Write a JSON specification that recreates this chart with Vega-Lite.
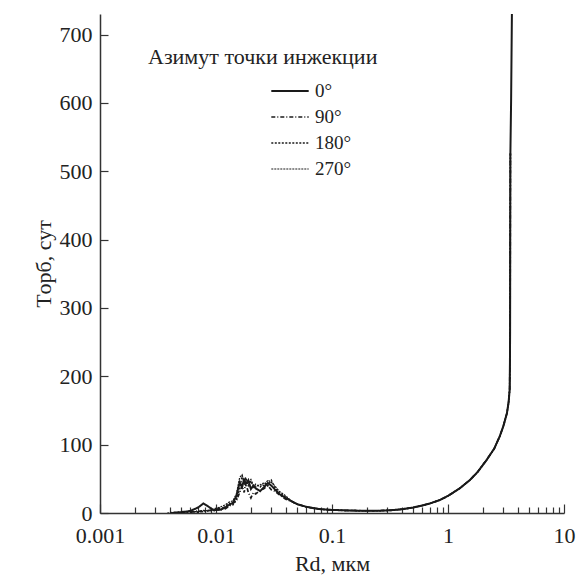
{
  "$schema": "https://vega.github.io/schema/vega-lite/v6.json",
  "autosize": {"type": "none"},
  "width": 464,
  "height": 499,
  "padding": {"left": 100, "top": 14, "right": 14, "bottom": 64},
  "background": "white",
  "config": {
    "view": {"stroke": null},
    "font": "Liberation Serif, Times New Roman, serif",
    "axis": {"labelFont": "Liberation Serif, Times New Roman, serif", "titleFont": "Liberation Serif, Times New Roman, serif", "labelColor": "#222", "titleColor": "#222", "domainColor": "#333", "tickColor": "#333", "domainWidth": 1.5, "tickWidth": 1.2, "grid": false, "labelFontSize": 22, "titleFontSize": 22, "titleFontWeight": "normal"},
    "legend": {"labelFont": "Liberation Serif, Times New Roman, serif", "titleFont": "Liberation Serif, Times New Roman, serif"}
  },
  "data": {"values": [
    {"R": 0.0038, "a0": null, "a90": null, "a180": null, "a270": 0},
    {"R": 0.0042, "a0": 0, "a90": 0, "a180": 0, "a270": 1},
    {"R": 0.005, "a0": 1, "a90": 2, "a180": 1, "a270": 1},
    {"R": 0.006, "a0": 3, "a90": 1, "a180": 2, "a270": 2},
    {"R": 0.007, "a0": 8, "a90": 3, "a180": 1, "a270": 2},
    {"R": 0.0078, "a0": 14, "a90": 2, "a180": 3, "a270": 4},
    {"R": 0.0085, "a0": 10, "a90": 4, "a180": 3, "a270": 3},
    {"R": 0.0095, "a0": 4, "a90": 3, "a180": 5, "a270": 6},
    {"R": 0.011, "a0": 5, "a90": 8, "a180": 4, "a270": 9},
    {"R": 0.012, "a0": 8, "a90": 6, "a180": 10, "a270": 12},
    {"R": 0.013, "a0": 12, "a90": 10, "a180": 14, "a270": 16},
    {"R": 0.014, "a0": 15, "a90": 14, "a180": 12, "a270": 18},
    {"R": 0.015, "a0": 25, "a90": 18, "a180": 20, "a270": 28},
    {"R": 0.016, "a0": 45, "a90": 30, "a180": 35, "a270": 52},
    {"R": 0.0168, "a0": 38, "a90": 40, "a180": 55, "a270": 56},
    {"R": 0.0175, "a0": 50, "a90": 30, "a180": 45, "a270": 42},
    {"R": 0.018, "a0": 42, "a90": 45, "a180": 52, "a270": 50},
    {"R": 0.019, "a0": 48, "a90": 30, "a180": 40, "a270": 44},
    {"R": 0.02, "a0": 35, "a90": 22, "a180": 47, "a270": 49},
    {"R": 0.021, "a0": 40, "a90": 30, "a180": 38, "a270": 40},
    {"R": 0.022, "a0": 36, "a90": 28, "a180": 42, "a270": 38},
    {"R": 0.024, "a0": 32, "a90": 33, "a180": 38, "a270": 42},
    {"R": 0.026, "a0": 38, "a90": 36, "a180": 45, "a270": 40},
    {"R": 0.028, "a0": 44, "a90": 40, "a180": 40, "a270": 48},
    {"R": 0.03, "a0": 40, "a90": 34, "a180": 48, "a270": 45},
    {"R": 0.032, "a0": 35, "a90": 32, "a180": 38, "a270": 40},
    {"R": 0.035, "a0": 28, "a90": 27, "a180": 30, "a270": 32},
    {"R": 0.04, "a0": 22, "a90": 20, "a180": 23, "a270": 25},
    {"R": 0.045, "a0": 17, "a90": 17, "a180": 17, "a270": 17},
    {"R": 0.05, "a0": 13, "a90": 13, "a180": 13, "a270": 13},
    {"R": 0.06, "a0": 9, "a90": 9, "a180": 9, "a270": 9},
    {"R": 0.07, "a0": 7, "a90": 7, "a180": 7, "a270": 7},
    {"R": 0.08, "a0": 5.5, "a90": 5.5, "a180": 5.5, "a270": 5.5},
    {"R": 0.1, "a0": 4.5, "a90": 4.5, "a180": 4.5, "a270": 4.5},
    {"R": 0.13, "a0": 3.8, "a90": 3.8, "a180": 3.8, "a270": 3.8},
    {"R": 0.18, "a0": 3.3, "a90": 3.3, "a180": 3.3, "a270": 3.3},
    {"R": 0.25, "a0": 3.3, "a90": 3.3, "a180": 3.3, "a270": 3.3},
    {"R": 0.32, "a0": 4, "a90": 4, "a180": 4, "a270": 4},
    {"R": 0.4, "a0": 5.5, "a90": 5.5, "a180": 5.5, "a270": 5.5},
    {"R": 0.5, "a0": 8, "a90": 8, "a180": 8, "a270": 8},
    {"R": 0.6, "a0": 11, "a90": 11, "a180": 11, "a270": 11},
    {"R": 0.7, "a0": 14, "a90": 14, "a180": 14, "a270": 14},
    {"R": 0.85, "a0": 19, "a90": 19, "a180": 19, "a270": 19},
    {"R": 1.0, "a0": 25, "a90": 25, "a180": 25, "a270": 25},
    {"R": 1.26, "a0": 36, "a90": 36, "a180": 36, "a270": 36},
    {"R": 1.54, "a0": 48, "a90": 48, "a180": 48, "a270": 48},
    {"R": 1.8, "a0": 60, "a90": 60, "a180": 60, "a270": 60},
    {"R": 2.14, "a0": 77, "a90": 77, "a180": 77, "a270": 77},
    {"R": 2.5, "a0": 94, "a90": 94, "a180": 94, "a270": 94},
    {"R": 2.79, "a0": 112, "a90": 112, "a180": 112, "a270": 112},
    {"R": 3.0, "a0": 127, "a90": 127, "a180": 127, "a270": 127},
    {"R": 3.22, "a0": 146, "a90": 146, "a180": 146, "a270": 146},
    {"R": 3.33, "a0": 162, "a90": 162, "a180": 162, "a270": 162},
    {"R": 3.4, "a0": 180, "a90": 180, "a180": 180, "a270": 180},
    {"R": 3.42, "a0": 220, "a90": 220, "a180": 220, "a270": 220},
    {"R": 3.43, "a0": 263, "a90": 263, "a180": 263, "a270": 263},
    {"R": 3.435, "a0": 330, "a90": 330, "a180": 330, "a270": 330},
    {"R": 3.44, "a0": 400, "a90": 400, "a180": 400, "a270": 400},
    {"R": 3.445, "a0": 460, "a90": 460, "a180": 460, "a270": 460},
    {"R": 3.45, "a0": 526, "a90": 526, "a180": 526, "a270": 526},
    {"R": 3.5, "a0": 604, "a90": null, "a180": null, "a270": null},
    {"R": 3.56, "a0": 740, "a90": null, "a180": null, "a270": null}
  ]},
  "transform": [
    {"fold": ["a0", "a90", "a180", "a270"], "as": ["key", "T"]},
    {"filter": "isValid(datum.T)"},
    {"calculate": "datum.key === 'a0' ? '0°' : datum.key === 'a90' ? '90°' : datum.key === 'a180' ? '180°' : '270°'", "as": "s"}
  ],
  "mark": {"type": "line", "color": "#1a1a1a", "clip": true, "strokeCap": "butt"},
  "encoding": {
    "x": {"field": "R", "type": "quantitative",
      "scale": {"type": "log", "domain": [0.001, 10], "nice": false},
      "axis": {"title": "Rd, мкм", "titlePadding": 4,
        "values": [0.001,0.002,0.003,0.004,0.005,0.006,0.007,0.008,0.009,0.01,0.02,0.03,0.04,0.05,0.06,0.07,0.08,0.09,0.1,0.2,0.3,0.4,0.5,0.6,0.7,0.8,0.9,1,2,3,4,5,6,7,8,9,10],
        "labelExpr": "abs(log(datum.value)/LN10 - round(log(datum.value)/LN10)) < 0.001 ? format(datum.value, '~g') : ''",
        "labelOverlap": false, "labelFlush": false, "labelPadding": 21,
        "tickSize": {"condition": {"test": "abs(log(datum.value)/LN10 - round(log(datum.value)/LN10)) < 0.001", "value": -9}, "value": -6}
      }},
    "y": {"field": "T", "type": "quantitative",
      "scale": {"domain": [0, 730], "nice": false},
      "axis": {"title": "Tорб, сут", "values": [0,100,200,300,400,500,600,700], "tickSize": -8, "labelPadding": 16, "titlePadding": 4}},
    "strokeDash": {"field": "s", "type": "nominal",
      "scale": {"domain": ["0°", "90°", "180°", "270°"], "range": [[1, 0], [4, 2, 1, 2], [2, 1.5], [2, 1]]},
      "legend": {"title": "Азимут точки инжекции", "orient": "none", "legendX": 48, "legendY": 33, "titleAnchor": "start", "titleLimit": 400, "titleFontSize": 22, "titleFontWeight": "normal", "titleColor": "#222", "titlePadding": 10, "labelFontSize": 19, "labelColor": "#222", "symbolType": "M-1.7,0H1.7", "symbolSize": 484, "symbolOffset": 130, "symbolStrokeColor": "#1a1a1a", "rowPadding": 4, "labelOffset": 13}},
    "strokeWidth": {"field": "s", "type": "nominal",
      "scale": {"domain": ["0°", "90°", "180°", "270°"], "range": [2, 1.2, 2.2, 3]},
      "legend": {"title": "Азимут точки инжекции", "orient": "none", "legendX": 48, "legendY": 33, "titleAnchor": "start", "titleLimit": 400, "titleFontSize": 22, "titleFontWeight": "normal", "titleColor": "#222", "titlePadding": 10, "labelFontSize": 19, "labelColor": "#222", "symbolType": "M-1.7,0H1.7", "symbolSize": 484, "symbolOffset": 130, "symbolStrokeColor": "#1a1a1a", "rowPadding": 4, "labelOffset": 13}}
  }
}
